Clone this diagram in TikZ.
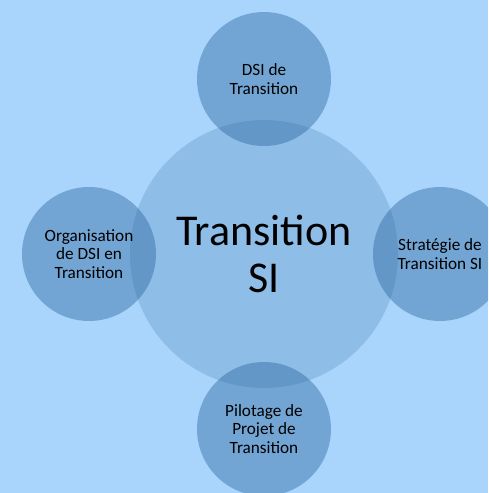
\documentclass[tikz,border=0pt]{standalone}
\usepackage{fontspec}
\setmainfont{Carlito}
\usepackage{xcolor}
\usepackage{tikz}
\usetikzlibrary{positioning}
\definecolor{pagebg}{RGB}{169,213,252}
\definecolor{circblue}{RGB}{35,95,152}
\tikzset{main node/.style={circle,fill=circblue,fill opacity=0.4,text opacity=1,
            minimum size=134pt,inner sep=0pt,align=center,
            font=\fontsize{17.2}{18.5}\selectfont},
         hub node/.style={circle,fill=circblue,fill opacity=0.2,text opacity=1,
            minimum size=268pt,inner sep=0pt,align=center,
            font=\fontsize{44}{47}\selectfont},
            }

\begin{document}
\begin{tikzpicture}[x=1pt,y=-1pt]
        \fill[pagebg] (0,0) rectangle (488,493);
        \useasboundingbox (0,0) rectangle (488,493);
        \clip (0,0) rectangle (488,493);

        \node[hub node] (hub) at (264,254) {Transition\\SI};
        \node[main node] (1) [on grid, above = 175pt of hub] {DSI de\\Transition};
        \node[main node] (2) [on grid, left = 175pt of hub] {Organisation\\de DSI en\\Transition};
        \node[main node] (3) [on grid, right = 176pt of hub] {Stratégie de\\Transition SI};
        \node[main node] (4) [on grid, below = 175pt of hub] {Pilotage de\\Projet de\\Transition};
      \end{tikzpicture}
\end{document}
